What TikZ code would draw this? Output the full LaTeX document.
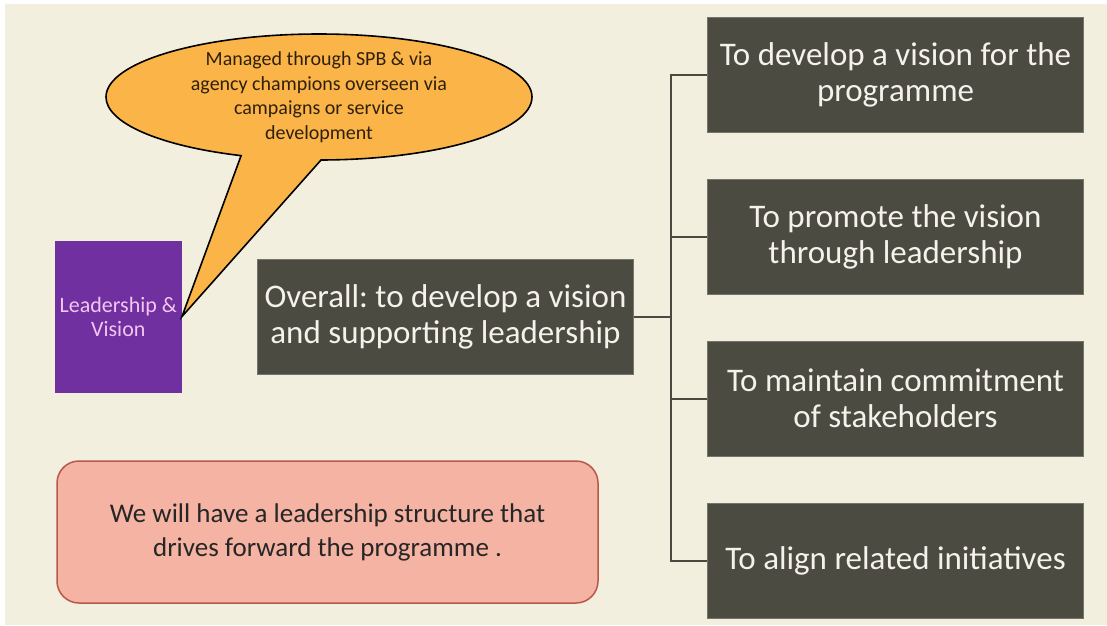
\documentclass[tikz,border=0pt]{standalone}
\usepackage{fontspec}
\setmainfont{Carlito}
\usetikzlibrary{shapes,positioning}
\frenchspacing
\definecolor{paper}{HTML}{F2EFDF}
\definecolor{goalfill}{HTML}{4C4B41}
\definecolor{goaledge}{HTML}{75746A}
\definecolor{goaltext}{HTML}{F4F2EA}
\definecolor{leadfill}{HTML}{7030A0}
\definecolor{leadtext}{HTML}{F2C6F0}
\definecolor{bubblefill}{HTML}{FBB447}
\definecolor{bubbletext}{HTML}{2E200C}
\definecolor{pledgefill}{HTML}{F5B3A3}
\definecolor{pledgeedge}{HTML}{B8574A}
\definecolor{linkcol}{HTML}{4A493F}
\tikzset{%
	goalbox/.style={rectangle, draw=goaledge, line width=1pt, fill=goalfill, text=goaltext,
		minimum width=376pt, minimum height=115pt, inner sep=0pt, align=center,
		font=\fontsize{33}{36}\selectfont},
	leadbox/.style={rectangle, fill=leadfill, text=leadtext, minimum width=127pt,
		minimum height=152pt, inner sep=0pt, align=center, font=\fontsize{22}{24}\selectfont},
	callout/.style={ellipse callout, draw=black, line width=1.6pt, fill=bubblefill,
		text=bubbletext, minimum width=426pt, minimum height=126pt, inner xsep=0pt,
		inner ysep=-10pt, outer sep=0pt, align=center, font=\fontsize{20}{24.5}\selectfont},
	pledge/.style={rectangle, rounded corners=22pt, draw=pledgeedge, line width=1.5pt,
		fill=pledgefill, text=black!85, minimum width=541pt, minimum height=142pt,
		align=center, font=\fontsize{27}{34}\selectfont},
	branch/.style={draw=linkcol, line width=2pt}
}

\begin{document}
\begin{tikzpicture}[x=1pt, y=-1pt, node distance=46pt]
\useasboundingbox (0,0) rectangle (1107,625);
\fill[paper] (5,4) rectangle (1107,625);

% main aim and the four sub goals
\node (overall) [goalbox] at (445.5,316.5) {Overall: to develop a vision\\and supporting leadership};
\node (goal1) [goalbox] at (895.5,74.5) {To develop a vision for the\\programme};
\node (goal2) [goalbox, below=of goal1] {To promote the vision\\through leadership};
\node (goal3) [goalbox, below=of goal2] {To maintain commitment\\of stakeholders};
\node (goal4) [goalbox, below=of goal3] {To align related initiatives};

\node (lead) [leadbox, left=75pt of overall] {Leadership \&\\Vision};
\node (managed) [callout, callout absolute pointer={(lead.east)}, callout pointer arc=22]
	at (319,97) {Managed through SPB \& via\\agency champions overseen via\\campaigns or service\\development};
\node (structure) [pledge] at (327.5,532) {We will have a leadership structure that\\drives forward the programme .};

\coordinate[right=37pt of overall.east] (trunk);
\path[branch] (overall.east) -- (trunk);
\path[branch] (trunk) |- (goal1.west);
\path[branch] (trunk) |- (goal2.west);
\path[branch] (trunk) |- (goal3.west);
\path[branch] (trunk) |- (goal4.west);

\end{tikzpicture}
\end{document}
